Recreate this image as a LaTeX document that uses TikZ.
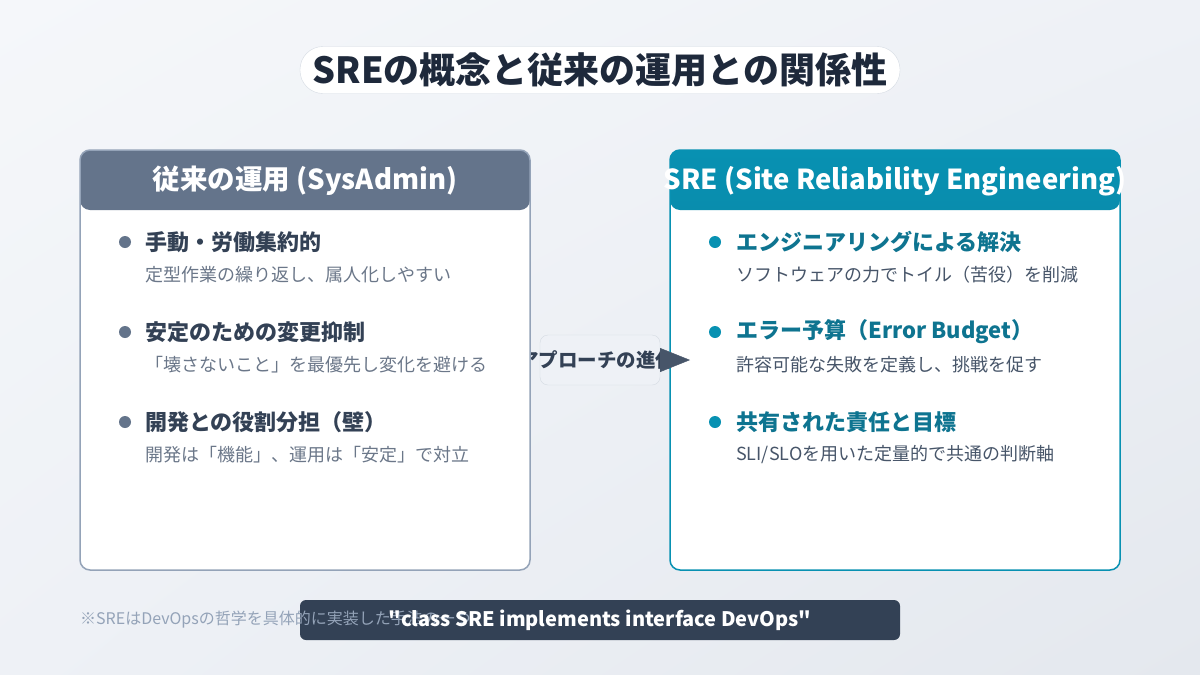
\documentclass[tikz,border=0pt]{standalone}
\usepackage{fontspec}
\setmainfont{Noto Sans CJK JP}
\newfontfamily\codefont{Noto Sans CJK JP}[Ligatures=TeXOff]
\usetikzlibrary{arrows.meta, positioning, shadings}

\definecolor{ink}{HTML}{1E293B}
\definecolor{slate}{HTML}{64748B}
\definecolor{slateline}{HTML}{94A3B8}
\definecolor{slatetext}{HTML}{334155}
\definecolor{subgray}{HTML}{6B7789}
\definecolor{teal}{HTML}{0891B2}
\definecolor{tealdark}{HTML}{0E7490}
\definecolor{tealsub}{HTML}{475569}
\definecolor{pillline}{HTML}{D5DBE3}
\definecolor{midfill}{HTML}{EEF1F6}
\definecolor{quotebg}{HTML}{334155}
\definecolor{bglight}{HTML}{F5F7FA}
\definecolor{bgdark}{HTML}{E4E8EE}

\newcommand{\fsz}[1]{\fontsize{#1}{#1}\selectfont}

\tikzset{
  panel/.style={draw, line width=1.5pt, rounded corners=10pt, fill=white,
    minimum width=450pt, minimum height=420pt},
  headtext/.style={font=\fsz{27.5}\bfseries, text=white},
  itemhead/.style={anchor=west, inner sep=0pt, font=\fsz{22}\bfseries},
  itemsub/.style={anchor=west, inner sep=0pt, font=\fsz{18}},
}

\begin{document}
\begin{tikzpicture}[x=1pt, y=-1pt]
  \useasboundingbox (0,0) rectangle (1200,675);
  % Background
  \shade[upper left=bglight, upper right=midfill, lower left=midfill,
    lower right=bgdark] (0,0) rectangle (1200,675);

  % Title
  \node[draw=pillline, fill=white, rounded corners=23pt, minimum width=600pt,
    minimum height=47pt, text=ink, font=\fsz{36}\bfseries] (title) at (600,70)
    {SREの概念と従来の運用との関係性};

  % Middle box (drawn before the panels, which cover its text)
  \node[draw=pillline, fill=midfill, rounded corners=8pt, minimum width=120pt,
    minimum height=50pt] (approach) at (600,360) {};
  \node[text=slatetext, font=\fsz{19.5}\bfseries] (approachlabel) at (597,360)
    {アプローチの進化};

  % Left panel: traditional operations
  \node[panel, draw=slateline, path picture={
      \fill[slate] (path picture bounding box.north west) rectangle
        ([yshift=-60pt]path picture bounding box.north east);}]
    (legacy) at (305,360) {};
  \node[headtext] (legacyhead) at (305,181) {従来の運用 (SysAdmin)};

  \fill[slate] (125,242) circle (6pt);
  \node[itemhead, text=slatetext] (l1) at (145,242) {手動・労働集約的};
  \node[itemsub, text=subgray] (l1s) at (145,275) {定型作業の繰り返し、属人化しやすい};
  \fill[slate] (125,332) circle (6pt);
  \node[itemhead, text=slatetext] (l2) at (145,332) {安定のための変更抑制};
  \node[itemsub, text=subgray] (l2s) at (145,365) {「壊さないこと」を最優先し変化を避ける};
  \fill[slate] (125,422) circle (6pt);
  \node[itemhead, text=slatetext] (l3) at (145,422) {開発との役割分担（壁）};
  \node[itemsub, text=subgray] (l3s) at (145,455) {開発は「機能」、運用は「安定」で対立};

  % Right panel: SRE
  \node[panel, draw=teal, path picture={
      \shade[top color=teal, bottom color=tealdark]
        (path picture bounding box.north west) rectangle
        ([yshift=-60pt]path picture bounding box.north east);}]
    (sre) at (895,360) {};
  \node[headtext] (srehead) at (895,181) {SRE (Site Reliability Engineering)};

  \fill[teal] (715,242) circle (6pt);
  \node[itemhead, text=tealdark] (r1) at (736,242) {エンジニアリングによる解決};
  \node[itemsub, text=tealsub] (r1s) at (736,275) {ソフトウェアの力でトイル（苦役）を削減};
  \fill[teal] (715,332) circle (6pt);
  \node[itemhead, text=tealdark] (r2) at (736,332) {エラー予算（Error Budget）};
  \node[itemsub, text=tealsub] (r2s) at (736,365) {許容可能な失敗を定義し、挑戦を促す};
  \fill[teal] (715,422) circle (6pt);
  \node[itemhead, text=tealdark] (r3) at (736,422) {共有された責任と目標};
  \node[itemsub, text=tealsub] (r3s) at (736,455) {SLI/SLOを用いた定量的で共通の判断軸};

  % Arrow into the SRE panel
  \coordinate (tip) at (690,360);
  \draw[tealsub, -{Triangle[length=30pt, width=24pt]}] (approach.east) -- (tip);

  % Footer
  \node[fill=quotebg, rounded corners=6pt, minimum width=600pt,
    minimum height=40pt] (quote) at (600,620) {};
  \node[anchor=west, inner sep=0pt, text=slateline, font=\fsz{16}] (note) at (80,620)
    {※SREはDevOpsの哲学を具体的に実装した手法の一つ};
  \node[text=white, font=\codefont\fsz{20}\bfseries] (quotetext) at (quote)
    {"class SRE implements interface DevOps"};
\end{tikzpicture}
\end{document}
